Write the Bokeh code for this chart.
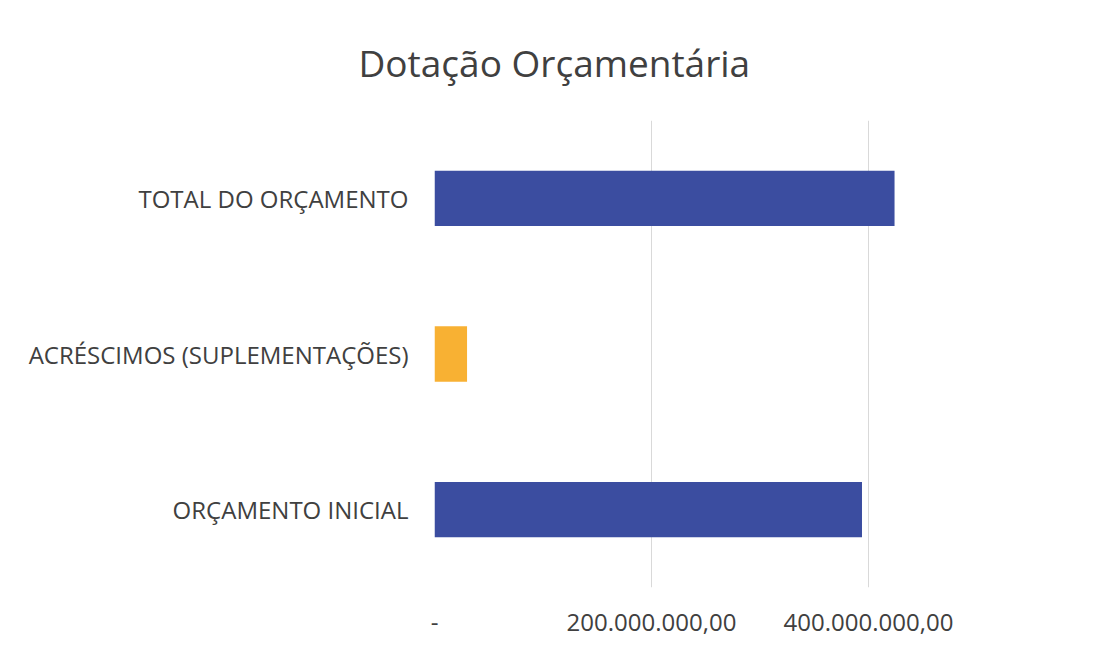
from bokeh.plotting import figure
from bokeh.models import FixedTicker, Range1d
from bokeh.embed import file_html
from bokeh.resources import INLINE

categories = ["ORÇAMENTO INICIAL", "ACRÉSCIMOS (SUPLEMENTAÇÕES)", "TOTAL DO ORÇAMENTO"]
values = [394_000_000, 30_000_000, 424_000_000]
colors = ["#3B4DA0", "#F8B133", "#3B4DA0"]
tick_values = [0, 200_000_000, 400_000_000]
tick_labels = ["-", "200.000.000,00", "400.000.000,00"]

FONT = "Open Sans"
TXT = "#404040"

p = figure(width=1098, height=653, y_range=categories,
           x_range=Range1d(0, 600_000_000),
           output_backend="svg", toolbar_location=None,
           min_border_left=434, min_border_right=13,
           min_border_top=120, min_border_bottom=66)

p.hbar(y=categories, right=values, left=0, height=0.355,
       fill_color=colors, line_color=None)

p.title.text = "Dotação Orçamentária"
p.title.text_font = FONT
p.title.text_font_size = "37px"
p.title.text_font_style = "normal"
p.title.text_color = TXT
p.title.align = "left"
p.title.offset = -76
p.title.standoff = 66

p.xaxis.ticker = FixedTicker(ticks=tick_values)
p.xaxis.major_label_overrides = {v: l for v, l in zip(tick_values, tick_labels)}
p.xaxis.axis_line_color = None
p.xaxis.major_tick_line_color = None
p.xaxis.minor_tick_line_color = None
p.xaxis.major_label_text_font = FONT
p.xaxis.major_label_text_font_size = "24px"
p.xaxis.major_label_text_color = TXT
p.xaxis.major_label_standoff = 20

p.yaxis.axis_line_color = None
p.yaxis.major_tick_line_color = None
p.yaxis.minor_tick_line_color = None
p.yaxis.major_label_text_font = FONT
p.yaxis.major_label_text_font_size = "24px"
p.yaxis.major_label_text_color = TXT
p.yaxis.major_label_standoff = 20

p.ygrid.grid_line_color = None
p.xgrid.grid_line_color = "#D9D9D9"
p.xgrid.grid_line_width = 1
p.outline_line_color = None
p.border_fill_color = "white"
p.background_fill_color = "white"

open("out.html", "w").write(file_html(p, INLINE))
